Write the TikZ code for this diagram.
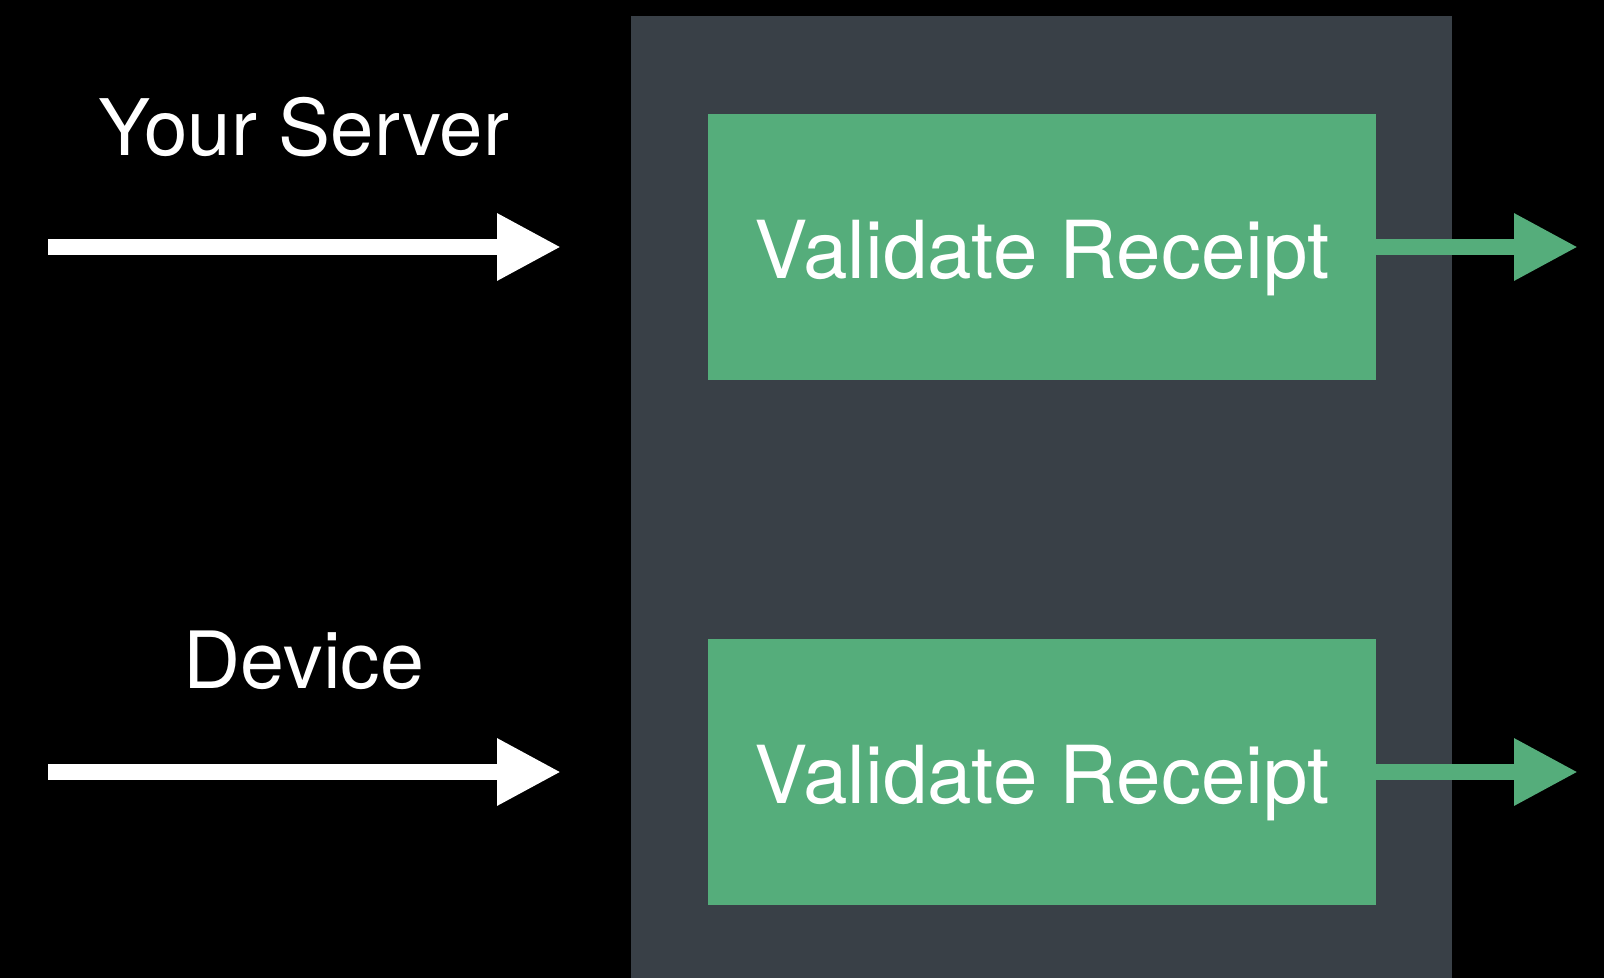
\documentclass[tikz,border=0pt]{standalone}
\usepackage{fontspec}
\setmainfont{TeX Gyre Heros}
\usetikzlibrary{arrows.meta}
\definecolor{panelgrey}{RGB}{57,64,71}
\definecolor{okgreen}{RGB}{85,173,123}
\begin{document}
\begin{tikzpicture}[x=1pt,y=-1pt,
  label/.style={text=white,inner sep=0pt,anchor=base,font=\fontsize{78}{90}\selectfont},
  boxtext/.style={text=white,inner sep=0pt,anchor=base,font=\fontsize{80}{90}\selectfont},
  greenbox/.style={fill=okgreen,draw=none,minimum width=668pt,minimum height=266pt,inner sep=0pt},
  inarrow/.style={white,line width=15.6pt,-{Triangle[length=64pt,width=63pt]}},
  outarrow/.style={okgreen,line width=15.6pt,-{Triangle[length=64pt,width=63pt]}}]
  % canvas and panel
  \fill[black] (0,0) rectangle (1604,978);
  \useasboundingbox (0,0) rectangle (1604,978);
  \fill[panelgrey] (631,16) rectangle (1452,978);

  % receipt checks
  \node[greenbox] (top) at (1042,247) {};
  \node[greenbox] (bot) at (1042,772) {};
  \node[boxtext] (toptext) at (1042,278) {Validate Receipt};
  \node[boxtext] (bottext) at (1042,803) {Validate Receipt};

  % sources
  \node[label] (server) at (304,155) {Your Server};
  \node[label,font=\fontsize{79}{90}\selectfont] (device) at (304,688) {Device};

  % connectors
  \coordinate (s1) at (48,247);
  \coordinate (e1) at (561,247);
  \coordinate (s2) at (48,772);
  \coordinate (e2) at (561,772);
  \coordinate (o1) at (1578,247);
  \coordinate (o2) at (1578,772);
  \draw[inarrow] (s1) -- (e1);
  \draw[inarrow] (s2) -- (e2);
  \draw[outarrow] (top.east) -- (o1);
  \draw[outarrow] (bot.east) -- (o2);
\end{tikzpicture}
\end{document}
